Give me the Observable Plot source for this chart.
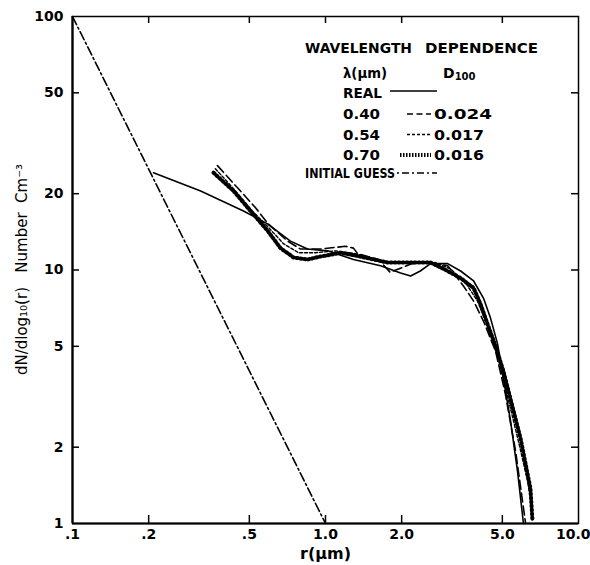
<!DOCTYPE html>
<html><head><meta charset="utf-8">
<script src="https://cdn.jsdelivr.net/npm/d3@7"></script>
<script src="https://cdn.jsdelivr.net/npm/@observablehq/plot@0.6"></script>
<style>
body{margin:0;background:#fff}
#chart{width:590px;height:565px}
</style>
</head><body><div id="chart"></div>
<script>
// ---- tick values and labels ----
const xTicks = [0.1, 0.2, 0.5, 1, 2, 5, 10];
const xTickLabels = [".1", ".2", ".5", "1.0", "2.0", "5.0", "10.0"];
const yTicks = [1, 2, 5, 10, 20, 50, 100];
const yTickLabels = ["1", "2", "5", "10", "20", "50", "100"];

// ---- series (r in µm, dN/dlog10 r in cm^-3) ----
const realR = [0.209,0.321,0.474,0.590,0.727,0.849,1.02,1.29,1.65,1.98,2.17,2.37,2.60,3.04,3.42,3.85,4.21,4.49,4.79,5.05,5.39,5.74,6.06];
const realN = [24.2,20.5,17.1,15.2,13.0,12.1,11.9,11.0,10.4,9.73,9.47,9.91,10.6,10.6,9.91,9.05,7.75,6.46,5.10,3.74,2.53,1.61,1.0];

const r040 = [0.374,0.449,0.529,0.590,0.708,0.796,0.955,1.20,1.29,1.34,1.62,1.80,2.20,2.60,3.04,3.51,3.85,4.21,4.70,5.14,5.64,6.18];
const n040 = [25.8,21.1,17.6,15.3,13.0,12.1,12.1,12.4,12.2,11.6,11.0,9.8,10.6,10.7,10.4,8.65,7.54,6.29,4.79,3.24,1.93,1.0];

const r054 = [0.367,0.441,0.514,0.596,0.682,0.782,0.913,1.10,1.31,1.73,2.17,2.72,3.12,3.58,3.99,4.37,4.79,5.24,5.79,6.29,6.52];
const n054 = [25.1,20.5,17.1,14.7,12.7,11.7,11.7,11.9,11.6,10.8,10.6,10.7,10.1,8.89,7.54,6.01,4.57,3.18,2.11,1.47,1.17];

const r070 = [0.361,0.433,0.505,0.590,0.664,0.748,0.849,0.955,1.15,1.37,1.76,2.23,2.60,2.93,3.42,3.85,4.10,4.37,4.70,5.05,5.90,6.46,6.58];
const n070 = [24.2,20.5,17.1,14.3,12.2,11.2,11.0,11.3,11.7,11.3,10.7,10.7,10.7,10.1,9.29,8.49,7.34,6.12,5.01,3.99,2.17,1.37,1.02];

const guessR = [0.1, 1.0];
const guessN = [100, 1];

const legendWavelengths = ["0.40", "0.54", "0.70"];
const legendD100 = ["0.024", "0.017", "0.016"];
const yTitle = "dN/dlog₁₀(r)\u00a0\u00a0\u00a0Number\u00a0\u00a0Cm⁻³";
const xTitle = "r(μm)";

const toRows = (rs, ns) => rs.map((r, i) => ({r, n: ns[i]}));

const FONT = "DejaVu Sans";
const styles = {
  real:  {strokeWidth: 1.6},
  d040:  {strokeWidth: 1.6, strokeDasharray: "9,4"},
  d054:  {strokeWidth: 1.4, strokeDasharray: "3,2"},
  d070:  {strokeWidth: 4, strokeDasharray: "1.3,2.7"},
  guess: {strokeWidth: 1.6, strokeDasharray: "9,3,2,3"}
};

const fmtX = d => xTickLabels[xTicks.indexOf(d)];
const fmtY = d => yTickLabels[yTicks.indexOf(d)];
const inner = a => a.slice(1, -1);

const W = 590, H = 565, MT = 16, MB = 42, ML = 72, MR = 12;
const FW = W - ML - MR, FH = H - MT - MB;
const TICK = 8;

const plot = Plot.plot({
  width: W, height: H,
  marginTop: MT, marginBottom: MB, marginLeft: ML, marginRight: MR,
  style: {fontFamily: FONT, fontSize: "14px", background: "#fff", color: "#000"},
  x: {type: "log", domain: [0.1, 10], axis: null},
  y: {type: "log", domain: [1, 100], axis: null},
  marks: [
    // tick labels
    Plot.text(xTicks.slice(0, -1), {x: d => d, text: fmtX, frameAnchor: "bottom", dy: 15, fontSize: 14, fontWeight: "bold"}),
    Plot.text(xTicks.slice(-1), {x: d => d, text: fmtX, frameAnchor: "bottom", dy: 15, dx: 12, textAnchor: "end", fontSize: 14, fontWeight: "bold"}),
    Plot.text(yTicks, {y: d => d, text: fmtY, frameAnchor: "left", dx: -9, textAnchor: "end", fontSize: 14, fontWeight: "bold"}),
    // x axis title
    Plot.text([xTitle], {frameAnchor: "bottom", dy: 35, fontSize: 16, fontWeight: "bold", text: d => d}),
    // inward ticks
    Plot.tickX(inner(xTicks), {x: d => d, insetTop: FH - TICK, strokeWidth: 1.5}),
    Plot.tickX(inner(xTicks), {x: d => d, insetBottom: FH - TICK + 1, strokeWidth: 1.5}),
    Plot.tickY(inner(yTicks), {y: d => d, insetRight: FW - TICK + 1, strokeWidth: 1.5}),
    Plot.tickY(inner(yTicks), {y: d => d, insetLeft: FW - TICK + 1, strokeWidth: 1.5}),
    Plot.frame({strokeWidth: 1.5}),
    Plot.ruleX([0.1], {strokeWidth: 2.2}),
    Plot.ruleY([1], {strokeWidth: 2.2}),
    // data
    Plot.line(toRows(guessR, guessN), {x: "r", y: "n", ...styles.guess}),
    Plot.line(toRows(r070, n070), {x: "r", y: "n", ...styles.d070}),
    Plot.line(toRows(r054, n054), {x: "r", y: "n", ...styles.d054}),
    Plot.line(toRows(r040, n040), {x: "r", y: "n", ...styles.d040}),
    Plot.line(toRows(realR, realN), {x: "r", y: "n", ...styles.real})
  ]
});

document.getElementById("chart").appendChild(plot);

const svg = d3.select(plot);

// ---- y axis title ----
svg.append("text")
  .attr("transform", `translate(22,${MT + FH / 2}) rotate(-90)`)
  .attr("text-anchor", "middle").attr("dy", "0.35em")
  .attr("font-family", FONT).attr("font-size", 15).attr("fill", "#000")
  .text(yTitle);

// ---- legend (drawn in the SVG) ----
const g = svg.append("g").attr("font-family", FONT).attr("font-size", 14).attr("font-weight", "bold")
  .attr("fill", "#000").attr("text-anchor", "start");
const txt = (x, y, s, len) => {
  const t = g.append("text").attr("x", x).attr("y", y).text(s);
  if (len) t.attr("textLength", len).attr("lengthAdjust", "spacingAndGlyphs");
  return t;
};
const sample = (x1, x2, y, st, dash) => g.append("line").attr("x1", x1).attr("x2", x2).attr("y1", y).attr("y2", y)
  .attr("stroke", "#000").attr("stroke-width", st.strokeWidth).attr("stroke-dasharray", dash || st.strokeDasharray || null);

txt(305, 53, "WAVELENGTH", 107);
txt(425, 53, "DEPENDENCE", 113);
txt(343, 78, "λ(μm)", 44);
const dt = txt(443, 78, "D");
dt.append("tspan").attr("font-size", 10).attr("dy", 2).text("100");
txt(343, 98, "REAL", 39);
sample(390, 437, 91, styles.real);
const keys = [styles.d040, styles.d054, styles.d070];
const keyDash = ["6,3.5", "3,2", "1.5,1.5"];
legendWavelengths.forEach((w, i) => {
  const y = 119 + i * 20.5;
  txt(343, y, w, 37);
  sample(i === 2 ? 400 : 407, 431, y - 5, keys[i], keyDash[i]);
  txt(434, y, legendD100[i], i === 0 ? 58 : 50);
});
txt(305, 178, "INITIAL GUESS", 90);
sample(397, 437, 173, styles.guess, "2,3,7,3");
</script>
</body></html>
